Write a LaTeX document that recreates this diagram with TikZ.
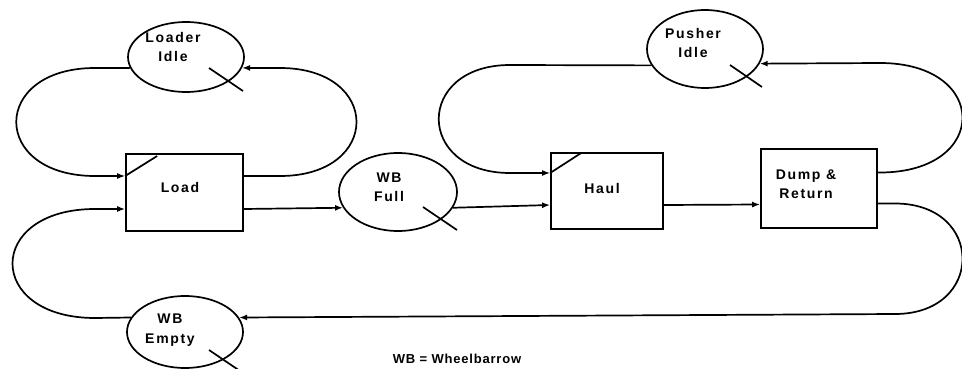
\documentclass[tikz,border=0pt]{standalone}
\usepackage{fontspec}
\setmainfont{Liberation Sans}
\newfontfamily\lblfont[LetterSpace=12]{Liberation Sans Bold}
\newfontfamily\capfont[LetterSpace=6]{Liberation Sans Bold}
\usetikzlibrary{arrows.meta,shapes.geometric,calc}
\begin{document}
\begin{tikzpicture}[x=1pt,y=-1pt,line width=1.7pt,
  state/.style={draw,ellipse,inner sep=0pt},
  act/.style={draw,rectangle,inner sep=0pt},
  lbl/.style={font=\lblfont\fontsize{14}{19.5}\selectfont,align=center,inner sep=0pt},
  flow/.style={-{Latex[length=8pt,width=6pt]}},
  slash/.style={line width=1.7pt}]
\useasboundingbox (0,0) rectangle (962,369);
% places (ellipses)
\node[state,minimum width=116pt,minimum height=70pt] (li) at (186,57) {};
\node[lbl] (lit) at (173,47) {Loader\\Idle};
\node[state,minimum width=116pt,minimum height=78pt] (pi) at (705,49) {};
\node[lbl] (pit) at (693,43) {Pusher\\Idle};
\node[state,minimum width=118pt,minimum height=78pt] (wf) at (398,192) {};
\node[lbl] (wft) at (389,187.5) {WB\\Full};
\node[state,minimum width=116pt,minimum height=72pt] (we) at (185,332) {};
\node[lbl] (wet) at (170,330) {WB\\Empty};
% activities (boxes)
\node[act,minimum width=117pt,minimum height=77pt] (ld) at (184.5,192.5) {};
\node[lbl] (ldt) at (180,187) {Load};
\node[act,minimum width=112pt,minimum height=76pt] (hl) at (607,191) {};
\node[lbl] (hlt) at (602,188) {Haul};
\node[act,minimum width=116pt,minimum height=79pt] (dr) at (819,188.5) {};
\node[lbl] (drt) at (806,184) {Dump \&\\Return};
% caption
\node[font=\capfont\fontsize{13}{15}\selectfont,inner sep=0pt] (cap) at (457,359) {WB = Wheelbarrow};
% slashes
\draw[slash] ($(li)+(23,11)$) -- ++(34,23);
\draw[slash] ($(pi)+(25,16)$) -- ++(32,22);
\draw[slash] ($(wf)+(25,15)$) -- ++(34,23);
\draw[slash] ($(we)+(24,18)$) -- ++(34,23);
\draw[slash] ([yshift=16.5pt]ld.west) -- ++(32,-20);
\draw[slash] ([yshift=18pt]hl.west) -- ++(31,-20);
% connectors
\draw[flow] (li.191) -- (95,68) .. controls (-10,68) and (-10,176) .. (95,176) -- ([yshift=16.5pt]ld.west);
\draw[flow] ([yshift=16.5pt]ld.east) -- (280,176) .. controls (382,176) and (382,68) .. (280,68) -- (li.349);
\draw[flow] (we.165) -- (95,318) .. controls (-15,318) and (-15,209) .. (95,209) -- ([yshift=-16.5pt]ld.west);
\draw[flow] ([yshift=-16.5pt]ld.east) -- (wf.196);
\draw[flow] (wf.344) -- ([yshift=-14pt]hl.west);
\draw[flow] ([yshift=-14pt]hl.east) -- ([yshift=-16pt]dr.west);
\draw[flow] (pi.197) -- (510,65) .. controls (415,65) and (415,173) .. (510,173) -- ([yshift=18pt]hl.west);
\draw[flow] ([yshift=16pt]dr.east) -- (880,172.5) .. controls (990,172.5) and (990,63) .. (880,63) -- (pi.345);
\draw[flow] ([yshift=-15pt]dr.east) -- (895,203.5) .. controls (985,203.5) and (985,314) .. (895,314) -- (we.15);
\end{tikzpicture}
\end{document}
